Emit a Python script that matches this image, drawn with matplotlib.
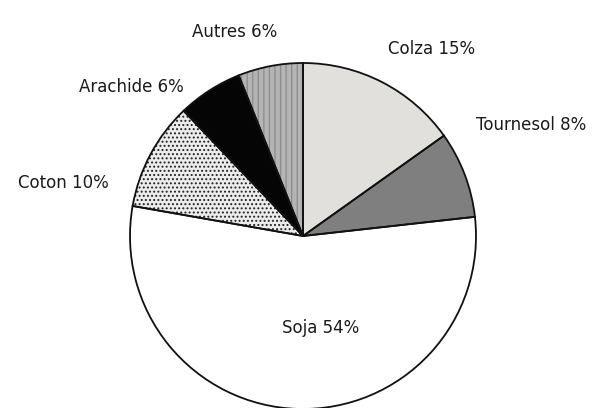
import matplotlib
matplotlib.use("Agg")
import matplotlib.pyplot as plt

# data (shares of world oilseed production, %)
labels = ["Colza", "Tournesol", "Soja", "Coton", "Arachide", "Autres"]
shares = [15, 8, 54, 10, 6, 6]

# styling per slice
faces   = ["#e2e0dd", "#7f7f7f", "#ffffff", "#ececec", "#050505", "#b4b4b4"]
hatches = [None, None, None, "....", None, "|||"]
hcolors = ["none", "none", "none", "#222222", "none", "#8a8a8a"]

# label anchors (pixel coords, y from top)
label_pos = [(432, 49), (531, 125), (321, 328), (63, 183), (131, 87), (235, 32)]

W, H = 592, 408
CX, CY, R = 303, 236, 173

fig = plt.figure(figsize=(W / 100, H / 100), dpi=100)
ax = fig.add_axes([0, 0, 1, 1])

plt.rcParams["hatch.linewidth"] = 0.9

# fills and textures
wedges, _ = ax.pie(shares, startangle=90, counterclock=False,
                   center=(CX, H - CY), radius=R, normalize=True,
                   frame=True, wedgeprops=dict(linewidth=0))
for w, fc, h, hc in zip(wedges, faces, hatches, hcolors):
    w.set_facecolor(fc)
    if h:
        w.set_hatch(h)
        w.set_edgecolor(hc)

# outlines on top
ax.pie(shares, startangle=90, counterclock=False,
       center=(CX, H - CY), radius=R, normalize=True, frame=True,
       wedgeprops=dict(facecolor="none", edgecolor="#111111", linewidth=1.3))

ax.set_xlim(0, W)
ax.set_ylim(0, H)
ax.axis("off")

for name, val, (px, py) in zip(labels, shares, label_pos):
    ax.text(px, H - py, f"{name} {val}%", ha="center", va="center",
            fontsize=12, color="#1a1a1a")

fig.savefig("out.png", dpi=100)
